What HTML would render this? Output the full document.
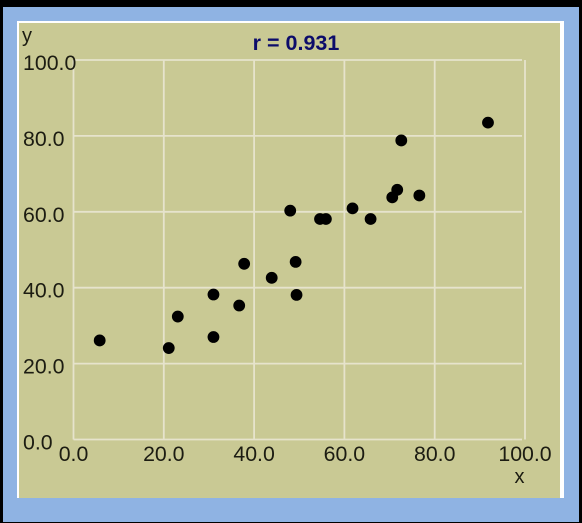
<!DOCTYPE html>
<html lang="en">
<head>
<meta charset="utf-8">
<title>Scatter plot r = 0.931</title>
<style>
html,body{margin:0;padding:0;background:#000;}
body{width:582px;height:523px;overflow:hidden;position:relative;}
#frame{position:absolute;left:3px;top:7px;width:576px;height:515px;background:#8fb3e3;}
#panel-edge{position:absolute;left:17px;top:21px;width:547px;height:477px;background:#fff;}
#panel{position:absolute;left:19px;top:23px;width:541px;height:475px;background:#c9c994;}
svg{position:absolute;left:0;top:0;filter:blur(0.35px);}
text{font-family:"Liberation Sans",Arial,sans-serif;}
</style>
</head>
<body>
<div id="frame"></div>
<div id="panel-edge"></div>
<div id="panel"></div>
<svg id="chart" width="582" height="523" viewBox="0 0 582 523"></svg>
<script>
const xValues = [5.8, 21.1, 23.1, 31.0, 31.0, 36.7, 37.8, 43.9, 48.0, 49.2, 49.4, 54.6, 55.9, 61.8, 65.8, 70.6, 71.7, 76.6, 72.6, 91.8];
const yValues = [26.1, 24.1, 32.4, 27.0, 38.2, 35.3, 46.3, 42.6, 60.3, 46.8, 38.1, 58.1, 58.1, 60.9, 58.1, 63.8, 65.8, 64.3, 78.8, 83.5];
const xTicks = [0, 20, 40, 60, 80, 100];
const yTicks = [0, 20, 40, 60, 80, 100];
const xTickLabels = ["0.0", "20.0", "40.0", "60.0", "80.0", "100.0"];
const yTickLabels = ["0.0", "20.0", "40.0", "60.0", "80.0", "100.0"];
const chartTitle = "r = 0.931";
const xAxisName = "x";
const yAxisName = "y";

const svgNS = "http://www.w3.org/2000/svg";
const svg = document.getElementById("chart");
const plotLeft = 73.5, plotRight = 525, plotTop = 60, plotBottom = 439.5;
function scaleX(v) { return plotLeft + (v / 100) * (plotRight - plotLeft); }
function scaleY(v) { return plotBottom - (v / 100) * (plotBottom - plotTop); }
function make(tag, attrs, text) {
  const el = document.createElementNS(svgNS, tag);
  for (const k in attrs) el.setAttribute(k, attrs[k]);
  if (text !== undefined) el.textContent = text;
  svg.appendChild(el);
  return el;
}
const gridColor = "#e6e3cc";
xTicks.forEach(function (t) {
  const line = make("line", {x1: scaleX(t), x2: scaleX(t), y1: plotTop, y2: plotBottom, stroke: gridColor, "stroke-width": 1.8});
  
  
});
yTicks.forEach(function (t) {
  const line = make("line", {x1: plotLeft, x2: plotRight - 3, y1: scaleY(t), y2: scaleY(t), stroke: gridColor, "stroke-width": 1.8});
  
  
});
xTicks.forEach(function (t, i) {
  const label = make("text", {x: scaleX(t), y: 461, "text-anchor": "middle", "font-size": 21.3, fill: "#1c1c12"}, xTickLabels[i]);
  
  
});
yTicks.forEach(function (t, i) {
  const label = make("text", {x: 23, y: scaleY(t) + 10, "text-anchor": "start", "font-size": 21.3, fill: "#1c1c12"}, yTickLabels[i]);
  
  
});
xValues.forEach(function (v, i) {
  const dot = make("circle", {cx: scaleX(v), cy: scaleY(yValues[i]), r: 5.9, fill: "#000"});
  
  
});
const title = make("text", {x: 296, y: 50, "text-anchor": "middle", "font-size": 21.5, "font-weight": "bold", fill: "#0c0c6a"}, chartTitle);


const xName = make("text", {x: 519.5, y: 483, "text-anchor": "middle", "font-size": 20, fill: "#1c1c12"}, xAxisName);


const yName = make("text", {x: 27, y: 42, "text-anchor": "middle", "font-size": 20, fill: "#1c1c12"}, yAxisName);


</script>
</body>
</html>
